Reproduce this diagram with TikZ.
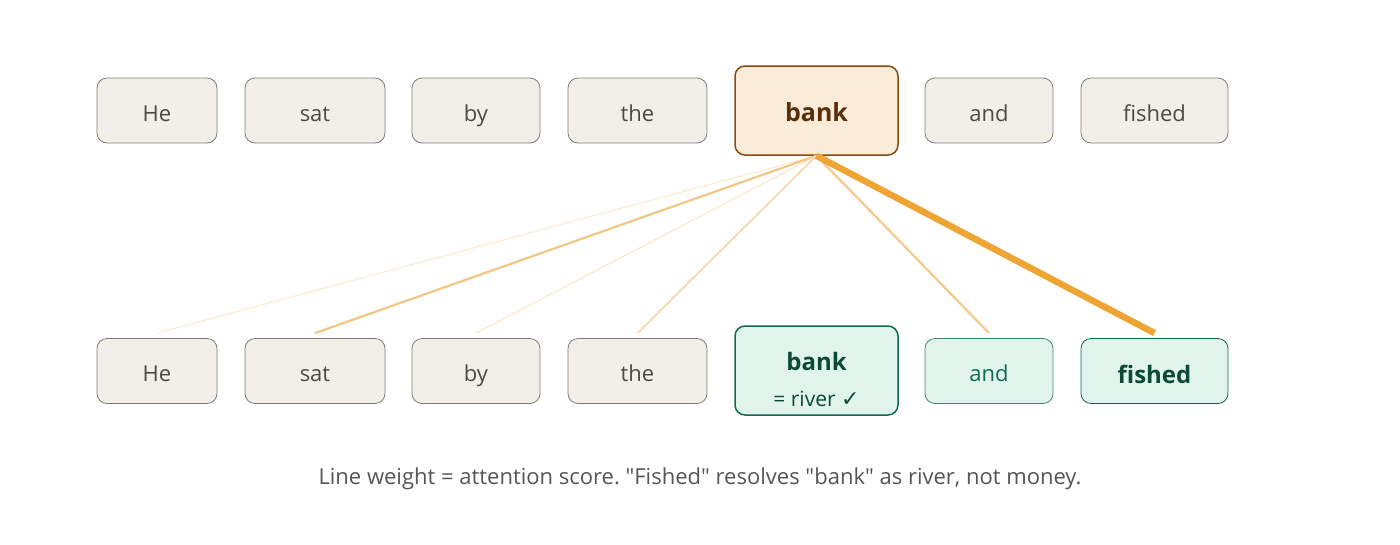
\documentclass[tikz,border=0pt]{standalone}
\usepackage{fontspec}
\setmainfont{Open Sans}
\newfontfamily\symfont{DejaVu Sans}
\newfontfamily\capfont{Open Sans}
\usetikzlibrary{calc}
\frenchspacing

\definecolor{wordfill}{HTML}{F1EFE8}
\definecolor{wordline}{HTML}{7E7C78}
\definecolor{wordtext}{HTML}{4A4A48}
\definecolor{bankfill}{HTML}{FAECD9}
\definecolor{bankline}{HTML}{8A4B0C}
\definecolor{banktext}{HTML}{5A300A}
\definecolor{greenfill}{HTML}{E1F4EC}
\definecolor{greenline}{HTML}{0E6B50}
\definecolor{greentext}{HTML}{0B4A38}
\definecolor{captext}{HTML}{555555}

\tikzset{
	tokenbox/.style={draw=wordline, fill=wordfill, rounded corners=10pt, line width=0.8pt,
		text=wordtext, minimum height=65pt, inner sep=0pt,
		font=\fontsize{22}{26}\selectfont},
	word/.style={tokenbox, text height=21pt, text depth=0pt},
	focus/.style={word, draw=bankline, fill=bankfill, text=banktext, line width=1.5pt,
		minimum height=89pt, text height=22.4pt, text depth=0pt, font=\fontsize{25}{30}\selectfont\bfseries},
	resolved/.style={word, draw=greenline, fill=greenfill, text=greentext, line width=0.8pt},
	attn/.style={line cap=butt}
}

\begin{document}
\begin{tikzpicture}[x=1pt,y=-1pt]
	\useasboundingbox (0,0) rectangle (1400,544);
	
	%top row
	\node[word, minimum width=120pt] (he1) at (157,110.5) {He};
	\node[word, minimum width=140pt] (sat1) at (315,110.5) {sat};
	\node[word, minimum width=128pt] (by1) at (476,110.5) {by};
	\node[word, minimum width=139pt] (the1) at (637.5,110.5) {the};
	\node[focus, minimum width=163pt] (bank1) at (816.5,110.5) {bank};
	\node[word, minimum width=128pt] (and1) at (989,110.5) {and};
	\node[word, minimum width=147pt] (fished1) at (1154.5,110.5) {fished};
	
	%bottom row
	\node[word, minimum width=120pt] (he2) at (157,371) {He};
	\node[word, minimum width=140pt] (sat2) at (315,371) {sat};
	\node[word, minimum width=128pt] (by2) at (476,371) {by};
	\node[word, minimum width=139pt] (the2) at (637.5,371) {the};
	\node[tokenbox, draw=greenline, fill=greenfill, text=greentext, line width=1.5pt,
		minimum width=163pt, minimum height=89pt, align=center, text height=71pt, text depth=0pt] (bank2) at (816.5,370.5)
		{{\fontsize{24}{26}\selectfont\bfseries bank}\\[10pt]{\fontsize{21}{24}\selectfont = river {\symfont\fontsize{22}{24}\selectfont ✓}}};
	\node[resolved, draw=greenline!80, text=greenline, minimum width=128pt] (and2) at (989,371) {and};
	\node[resolved, minimum width=147pt, text height=24pt, text depth=0pt,
		font=\fontsize{24}{28}\selectfont\bfseries] (fished2) at (1154.5,371) {fished};
	
	%attention lines
	\draw[attn, draw={rgb,255:red,251;green,231;blue,206}, line width=1pt] (bank1.south) -- ([yshift=5pt]he2.north);		%He
	\draw[attn, draw={rgb,255:red,240;green,199;blue,133}, line width=2.2pt] (bank1.south) -- ([yshift=5pt]sat2.north);	%sat
	\draw[attn, draw={rgb,255:red,251;green,227;blue,197}, line width=1pt] (bank1.south) -- ([yshift=5pt]by2.north);		%by
	\draw[attn, draw={rgb,255:red,248;green,213;blue,168}, line width=1.6pt] (bank1.south) -- ([yshift=5pt]the2.north);	%the
	\draw[attn, draw={rgb,255:red,243;green,201;blue,140}, line width=2.2pt] (bank1.south) -- ([yshift=5pt]and2.north);	%and
	\draw[attn, draw={rgb,255:red,239;green,165;blue,52}, line width=6.5pt] (bank1.south) -- ([yshift=5pt]fished2.north);	%fished
	
	%caption
	\node[text=captext, font=\capfont\fontsize{22}{26}\selectfont] (cap) at (700,479)
		{Line weight = attention score. "Fished" resolves "bank" as river, not money.};
\end{tikzpicture}
\end{document}
